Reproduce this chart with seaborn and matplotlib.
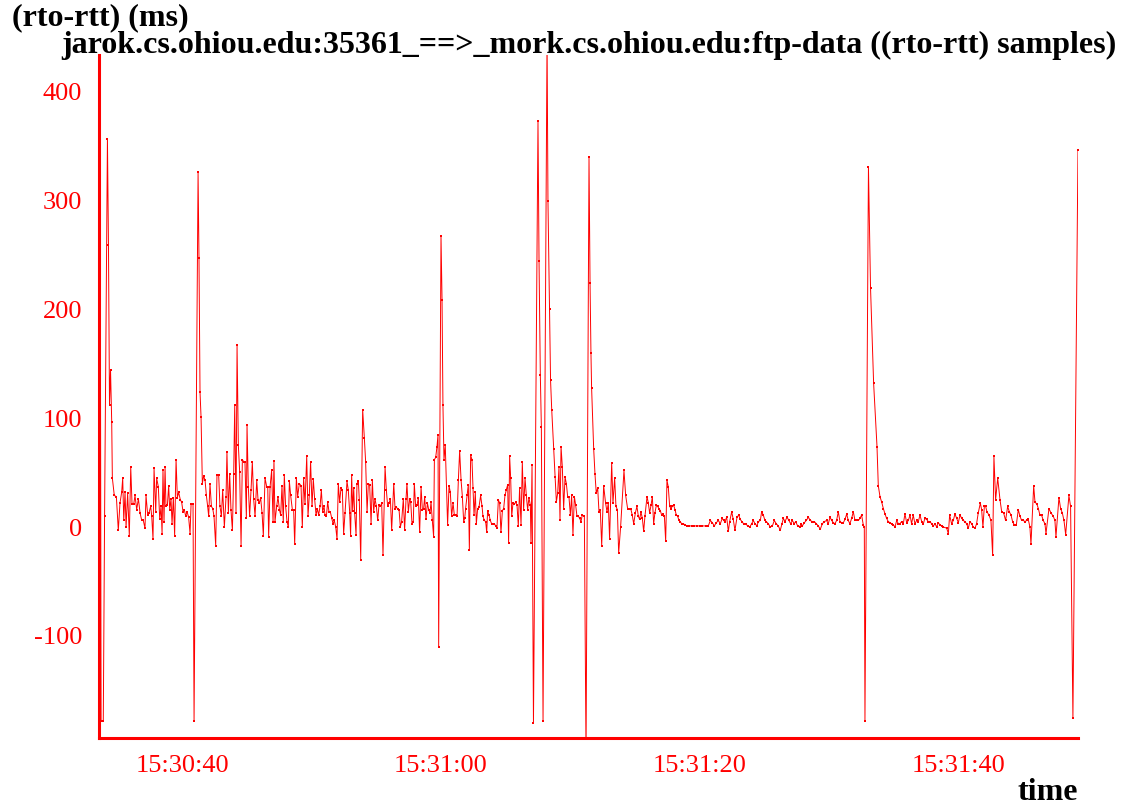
import matplotlib
matplotlib.use("Agg")
import matplotlib.pyplot as plt
import seaborn as sns
import pandas as pd

# (seconds after 15:30:00, rto - rtt in ms)
seg_start = [
    (33.66, 440), (33.75, -178), (33.92, -178), (34.02, 10), (34.24, 357),
    (34.32, 259), (34.40, 112), (34.48, 144), (34.57, 97), (34.62, 45),
]
seg_a = [
    (34.77, 29), (34.93, 28), (35.08, -3), (35.21, 22), (35.34, 32), (35.42, 45),
    (35.50, 6), (35.60, 32), (35.68, 0), (35.80, 31), (35.93, -8), (36.04, 55),
    (36.14, 21), (36.27, 21), (36.37, 29), (36.50, 16), (36.63, 26), (36.76, 13),
    (36.89, 6), (37.01, 6), (37.14, -1), (37.22, 29), (37.35, 11), (37.45, 13),
    (37.58, 19), (37.66, 10), (37.76, -11), (37.84, 54), (37.97, 14), (38.04, 45),
    (38.17, 37), (38.28, 7), (38.38, 19), (38.46, -6), (38.53, 52), (38.61, 5),
    (38.69, 55), (38.76, 19), (38.87, 20), (38.97, 38), (39.05, 16), (39.15, 26),
    (39.23, 3), (39.33, 27), (39.43, -8), (39.54, 62), (39.64, 27), (39.74, 32),
    (39.87, 25), (39.97, 23), (40.08, 14), (40.18, 16), (40.28, 10), (40.39, 14),
    (40.51, 9), (40.62, -6), (40.70, 21), (40.85, 21),
    (40.93, -178), (41.24, 326), (41.31, 247), (41.39, 124), (41.47, 101),
    (41.57, 40), (41.67, 47), (41.78, 43), (41.88, 29), (41.98, 19), (42.06, 10),
    (42.16, 40), (42.27, 19), (42.37, 17), (42.47, 10), (42.60, -17), (42.70, 48),
    (42.83, 48), (42.93, 19), (43.04, 10), (43.14, 34), (43.27, 0),
]
seg_b = [
    (43.40, 28), (43.47, 69), (43.58, 13), (43.68, 49), (43.78, 16), (43.89, -3),
    (43.99, 49), (44.07, 112), (44.17, 13), (44.25, 167), (44.35, 75), (44.45, 51),
    (44.56, -17), (44.66, 62), (44.76, 60), (44.86, 60), (44.97, 8), (45.02, 94),
    (45.12, 37), (45.22, 10), (45.33, 34), (45.43, 60), (45.53, 26), (45.64, 10),
    (45.77, 43), (45.87, 25), (45.97, 22), (46.07, 27), (46.18, 13), (46.28, -8),
    (46.41, 45), (46.54, 37), (46.62, 37), (46.69, -9), (46.80, 37), (46.92, 52),
    (47.03, 5), (47.10, 61), (47.18, 5), (47.31, 19), (47.41, 28), (47.52, 16),
    (47.62, 11), (47.72, 38), (47.82, 5), (47.90, 48), (48.00, 19), (48.11, 5),
    (48.21, 0), (48.29, 42), (48.39, 29), (48.52, 16), (48.62, 16), (48.70, -16),
    (48.83, 45), (48.93, 28), (49.06, 40), (49.19, 38), (49.29, 0), (49.39, 45),
    (49.50, 21), (49.63, 65), (49.73, 10), (49.83, 29), (49.93, 60), (50.04, 19),
    (50.14, 44), (50.24, 26), (50.35, 11), (50.45, 17), (50.55, 11), (50.66, 19),
    (50.76, 34), (50.86, 14), (50.97, 19), (51.04, 11), (51.15, 10), (51.25, 23),
    (51.35, 14), (51.45, 14), (51.56, 8), (51.66, 3), (51.76, 6), (51.87, 0),
    (51.97, -11), (52.07, 40), (52.17, 23), (52.28, 36), (52.38, 34), (52.48, -6),
    (52.59, 13),
]
seg_c = [
    (52.74, 42), (52.84, 34), (52.95, 13), (53.02, -8), (53.10, 48), (53.18, 15),
    (53.26, 36), (53.33, 13), (53.44, -7), (53.51, 40), (53.62, 42), (53.69, 25),
    (53.80, -30), (53.95, 108), (54.08, 82), (54.18, 60), (54.29, 14), (54.39, 40),
    (54.49, 39), (54.60, 3), (54.70, 43), (54.80, 14), (54.90, 26), (55.01, 19),
    (55.11, 6), (55.21, 20), (55.32, 19), (55.42, 22), (55.52, -26), (55.68, 55),
    (55.78, 34), (55.88, 19), (55.99, 22), (56.09, 26), (56.19, -3), (56.35, 40),
    (56.45, 17), (56.55, 18), (56.65, 17), (56.76, 16), (56.86, 0), (56.96, 5),
    (57.09, 26), (57.19, -3), (57.30, 26), (57.37, 40), (57.48, 14), (57.58, 26),
    (57.66, 23), (57.76, 3), (57.86, 5), (57.94, 40), (58.04, 19), (58.15, 20),
    (58.25, 27), (58.35, -5), (58.46, 37), (58.56, 16), (58.66, 17), (58.74, 28),
    (58.84, 7), (58.95, 22), (59.05, 16), (59.15, 13), (59.23, 23), (59.33, 6),
    (59.43, -9), (59.49, 62), (59.59, 64), (59.69, 74), (59.77, 85), (59.82, -110),
    (60.00, 268), (60.08, 209), (60.15, 112), (60.23, 62), (60.33, 75), (60.51, 2),
    (60.62, 38), (60.72, 32), (60.82, 10), (60.93, 22), (61.03, 11), (61.13, 11),
    (61.24, 10), (61.34, 43), (61.44, 70), (61.55, 43), (61.65, 28), (61.75, 5),
]
seg_d = [
    (61.83, 8), (61.90, 17), (62.01, 29), (62.11, 39), (62.19, -21), (62.29, 66),
    (62.39, 62), (62.47, 36), (62.55, 11), (62.65, 32), (62.73, 3), (62.83, 17),
    (62.93, 18), (63.06, 29), (63.17, 19), (63.24, 10), (63.35, 6), (63.45, 5),
    (63.53, -5), (63.60, 15), (63.71, 11), (63.81, 6), (63.91, 3), (64.02, 3),
    (64.12, 3), (64.22, 1), (64.32, -1), (64.43, 25), (64.53, 22), (64.63, -5),
    (64.74, 15), (64.84, 17), (64.94, 29), (65.04, 34), (65.15, 39), (65.22, -15),
    (65.30, 65), (65.38, 45), (65.46, 10), (65.56, 22), (65.66, 21), (65.77, 23),
    (65.87, 20), (65.97, 1), (66.07, 36), (66.18, 2), (66.28, 60), (66.38, 16),
    (66.49, 45), (66.59, 29), (66.69, 16), (66.79, 27), (66.90, 20), (66.95, -15),
    (67.03, 57),
    (67.14, -180), (67.49, 373), (67.57, 245), (67.67, 140), (67.75, 92),
    (67.88, -178), (68.19, 450), (68.26, 300), (68.38, 200), (68.46, 135),
    (68.55, 108), (68.70, 72), (68.80, 46), (68.91, 23), (69.01, 31), (69.11, 55),
    (69.19, 6), (69.27, 74), (69.37, 55), (69.47, 17), (69.58, 46), (69.68, 40),
    (69.78, 28), (69.88, 28), (69.99, 11), (70.09, 29), (70.19, -7), (70.30, 28),
    (70.40, 20), (70.50, 10), (70.60, 10), (70.71, 8), (70.81, 5), (70.91, 11),
    (71.02, 10), (71.07, 10),
]
seg_e = [
    (71.20, -210), (71.43, 340), (71.51, 224), (71.58, 160), (71.63, 128),
    (71.79, 72), (71.89, 49), (71.99, 31), (72.10, 36), (72.20, 14), (72.30, 16),
    (72.41, -17), (72.56, 38), (72.71, 22), (72.82, 14), (72.92, 22), (73.02, -11),
    (73.18, 59), (73.28, 22), (73.41, 45), (73.51, 19), (73.62, 16), (73.72, -24),
    (73.87, 0), (74.13, 52), (74.26, 29), (74.41, 17), (74.54, 17), (74.65, 17),
    (74.77, 11), (74.88, 3), (75.01, 13), (75.13, 19), (75.24, 10), (75.34, 7),
    (75.44, 14), (75.55, 8), (75.65, -4), (75.75, 10), (75.91, 28), (76.01, 22),
    (76.11, 13), (76.22, 20), (76.32, 28), (76.42, 3), (76.52, 13), (76.63, 20),
    (76.73, 19), (76.83, 17), (76.94, 15), (77.04, 11), (77.14, 12), (77.25, 10),
    (77.35, -13), (77.45, 43), (77.55, 37), (77.66, 19), (77.76, 17), (77.86, 19),
    (77.97, 20), (78.07, 16), (78.17, 11), (78.27, 10), (78.38, 6), (78.48, 5),
    (78.58, 3), (78.71, 3), (78.84, 2), (78.99, 1), (79.15, 1), (79.36, 1),
    (79.56, 1), (79.77, 1), (79.97, 1), (80.18, 1),
]
seg_f = [
    (80.49, 1), (80.64, 1), (80.80, 6), (80.95, 4), (81.11, 1), (81.26, 4),
    (81.42, 6), (81.57, 3), (81.72, 8), (81.83, 6), (81.93, 5), (82.06, 9),
    (82.19, -4), (82.29, 5), (82.45, 14), (82.57, 7), (82.70, -3), (82.86, 9),
    (82.99, 11), (83.11, 7), (83.24, 5), (83.37, 3), (83.53, 3), (83.68, 1),
    (83.84, 0), (83.99, 3), (84.12, 6), (84.25, 3), (84.40, 1), (84.50, 5),
    (84.66, 6), (84.76, 14), (84.89, 11), (85.02, 6), (85.12, 5), (85.28, 3),
    (85.43, 0), (85.59, 1), (85.74, 6), (85.89, 3), (86.05, 1), (86.20, -3),
    (86.33, 3), (86.44, 8), (86.56, 5), (86.72, 9), (86.87, 6), (87.00, 3),
    (87.13, 6), (87.28, 3), (87.39, 5), (87.54, 1), (87.70, 0), (87.80, 3),
    (87.90, 1), (88.06, 4), (88.21, 6), (88.37, 9), (88.52, 6), (88.67, 5),
    (88.83, 5), (88.98, 3), (89.14, 1), (89.29, -2), (89.45, 3), (89.60, 5),
]
seg_g = [
    (89.78, 6), (89.91, 3), (90.04, 9), (90.17, 6), (90.30, 4), (90.42, 3),
    (90.55, 6), (90.68, 14), (90.81, 5), (90.94, 4), (91.07, 4), (91.20, 7),
    (91.33, 12), (91.45, 6), (91.58, 3), (91.71, 8), (91.84, 14), (91.97, 6),
    (92.10, 6), (92.23, 6), (92.36, 8), (92.48, 11), (92.61, 2), (92.69, 0),
    (92.74, -178), (93.01, 331), (93.17, 220), (93.41, 132), (93.67, 74),
    (93.77, 38), (93.90, 28), (94.03, 23), (94.16, 17), (94.29, 12), (94.41, 8),
    (94.54, 5), (94.67, 4), (94.80, 3), (94.93, 2), (95.06, 0), (95.19, 6),
    (95.32, 3), (95.44, 3), (95.57, 5), (95.70, 3), (95.83, 12), (95.96, 4),
    (96.09, 6), (96.22, 11), (96.34, 3), (96.47, 11), (96.60, 3), (96.73, 6),
    (96.86, 5), (96.99, 11), (97.12, 5), (97.25, 3), (97.37, 8), (97.50, 7),
    (97.63, 5), (97.76, 5), (97.89, 3), (98.02, 1), (98.15, 3), (98.28, 0),
    (98.40, 4), (98.53, 2), (98.66, 1), (98.79, 0),
]
seg_h = [
    (99.05, -1), (99.18, -6), (99.28, 11), (99.43, 3), (99.56, 6), (99.69, 12),
    (99.82, 8), (99.95, 4), (100.08, 11), (100.21, 8), (100.33, 6), (100.46, 5),
    (100.59, 3), (100.72, -1), (100.85, 5), (100.98, 3), (101.11, 0), (101.24, -1),
    (101.36, 3), (101.49, 13), (101.65, 22), (101.75, 16), (101.85, 0), (101.96, 19),
    (102.06, 19), (102.16, 14), (102.32, 11), (102.47, 6), (102.60, -26), (102.70, 65),
    (102.83, 25), (102.99, 45), (103.17, 25), (103.30, 14), (103.45, 13), (103.60, 6),
    (103.76, 19), (103.89, 14), (104.02, 11), (104.14, 5), (104.27, 2), (104.43, 2),
    (104.58, 16), (104.71, 10), (104.84, 6), (104.97, 6), (105.10, 5), (105.23, 6),
    (105.35, 7), (105.48, 0), (105.56, -16), (105.77, 38), (105.87, 23), (106.02, 21),
    (106.13, 17), (106.25, 11), (106.38, 11), (106.51, 6), (106.64, 3), (106.72, -6),
    (106.95, 17), (107.10, 13), (107.28, 10), (107.41, 6), (107.49, -9), (107.72, 27),
    (107.85, 17), (107.98, 13), (108.11, 6), (108.24, -7), (108.49, 29), (108.62, 19),
    (108.80, -176), (109.19, 347),
]

x_tick_seconds = [40, 60, 80, 100]
x_tick_labels = ["15:30:40", "15:31:00", "15:31:20", "15:31:40"]
y_ticks = [-100, 0, 100, 200, 300, 400]

title = "jarok.cs.ohiou.edu:35361_==>_mork.cs.ohiou.edu:ftp-data ((rto-rtt) samples)"
y_label = "(rto-rtt) (ms)"
x_label = "time"

rows = []
for seg in (seg_start, seg_a, seg_b, seg_c, seg_d, seg_e, seg_f, seg_g, seg_h):
    rows.extend(seg)
df = pd.DataFrame(rows, columns=["t", "rto_rtt"])

sns.set_style("white")
plt.rcParams["font.family"] = ["Liberation Serif", "DejaVu Serif"]
plt.rcParams["axes.unicode_minus"] = False

RED = "#ff0000"
fig = plt.figure(figsize=(11.29, 8.05), dpi=100)
ax = fig.add_axes([0.0877, 0.0832, 0.8671, 0.8485])

sns.lineplot(data=df, x="t", y="rto_rtt", ax=ax, sort=False, estimator=None,
             color=RED, linewidth=0.7, marker="s", markersize=1.6,
             markeredgewidth=0)

ax.set_xlim(33.59, 109.19)
ax.set_ylim(-194, 434)
ax.set_xticks(x_tick_seconds)
ax.set_xticklabels(x_tick_labels)
ax.set_yticks(y_ticks)
ax.set_xlabel("")
ax.set_ylabel("")

for side in ("top", "right"):
    ax.spines[side].set_visible(False)
for side in ("left", "bottom"):
    ax.spines[side].set_color(RED)
    ax.spines[side].set_linewidth(2.2)

ax.tick_params(axis="both", colors=RED, labelcolor=RED, labelsize=19,
               length=3, width=1.5, direction="out")
ax.tick_params(axis="y", pad=9)
ax.tick_params(axis="x", pad=9)

fig.text(0.5217, 0.944, title, ha="center", va="center",
         fontsize=23, fontweight="bold", color="black")
fig.text(0.0106, 0.996, y_label, ha="left", va="top",
         fontsize=23, fontweight="bold", color="black")
fig.text(0.9548, 0.016, x_label, ha="right", va="center",
         fontsize=23, fontweight="bold", color="black")

fig.savefig("out.png", dpi=100)
